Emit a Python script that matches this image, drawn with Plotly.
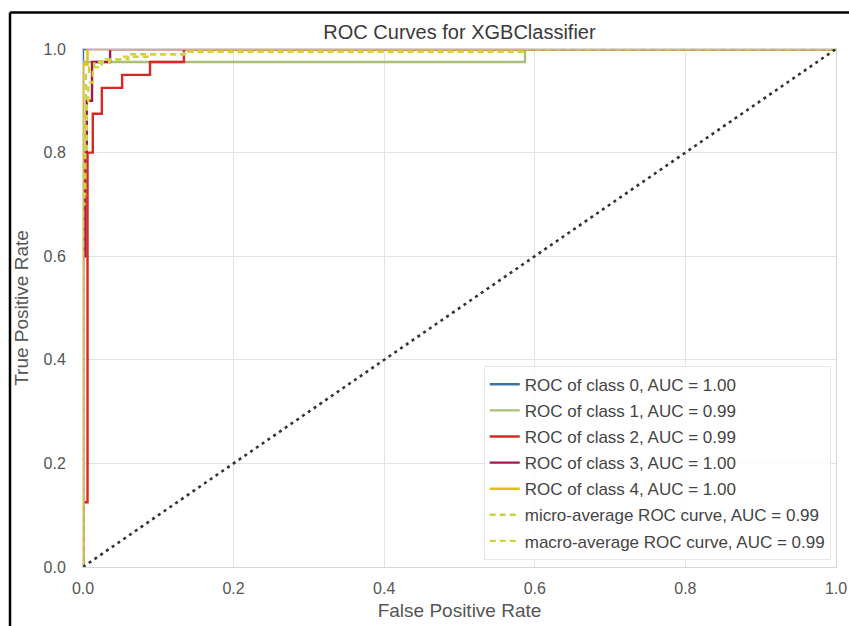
import plotly.graph_objects as go

# ---- data ----
class0_fpr = [0.0, 0.0, 1.0]
class0_tpr = [0.0, 1.0, 1.0]

class1_fpr = [0.0, 0.0, 0.587, 0.587, 1.0]
class1_tpr = [0.0, 0.975, 0.975, 1.0, 1.0]

class2_fpr = [0.0, 0.0, 0.006, 0.006, 0.013, 0.013, 0.025, 0.025, 0.052, 0.052, 0.089, 0.089, 0.134, 0.134, 1.0]
class2_tpr = [0.0, 0.125, 0.125, 0.8, 0.8, 0.875, 0.875, 0.925, 0.925, 0.95, 0.95, 0.975, 0.975, 1.0, 1.0]

class3_fpr = [0.0, 0.0, 0.003, 0.003, 0.005, 0.005, 0.012, 0.012, 0.036, 0.036, 1.0]
class3_tpr = [0.0, 0.6, 0.6, 0.8, 0.8, 0.9, 0.9, 0.975, 0.975, 1.0, 1.0]

class4_fpr = [0.0, 0.0, 0.006, 0.006, 1.0]
class4_tpr = [0.0, 0.97, 0.97, 1.0, 1.0]

micro_fpr = [0.0, 0.0, 0.002, 0.002, 0.004, 0.004, 0.008, 0.008, 0.015, 0.015, 0.03, 0.03, 0.06, 0.06, 0.14, 0.14, 0.587, 0.587, 1.0]
micro_tpr = [0.0, 0.7, 0.7, 0.88, 0.88, 0.95, 0.95, 0.965, 0.965, 0.975, 0.975, 0.98, 0.98, 0.99, 0.99, 0.995, 0.995, 1.0, 1.0]

macro_fpr = [0.0, 0.0, 0.003, 0.003, 0.005, 0.005, 0.007, 0.007, 0.013, 0.013, 0.025, 0.025, 0.036, 0.036, 0.052, 0.052, 0.089, 0.089, 0.134, 0.134, 0.587, 0.587, 1.0]
macro_tpr = [0.0, 0.72, 0.72, 0.8, 0.8, 0.89, 0.89, 0.935, 0.935, 0.965, 0.965, 0.975, 0.975, 0.98, 0.98, 0.985, 0.985, 0.99, 0.99, 0.995, 0.995, 1.0, 1.0]

diag = [0.0, 1.0]

names = [
    "ROC of class 0, AUC = 1.00",
    "ROC of class 1, AUC = 0.99",
    "ROC of class 2, AUC = 0.99",
    "ROC of class 3, AUC = 1.00",
    "ROC of class 4, AUC = 1.00",
    "micro-average ROC curve, AUC = 0.99",
    "macro-average ROC curve, AUC = 0.99",
]
tick_vals = [0.0, 0.2, 0.4, 0.6, 0.8, 1.0]
tick_text = ["0.0", "0.2", "0.4", "0.6", "0.8", "1.0"]

colors = ["#3f72a6", "#a9bf7a", "#dc2626", "#a8164f", "#e3bd12", "#c9d23c", "#d2d43a"]
dashes = ["solid"] * 5 + ["6px,4px", "6px,4px"]

series = [
    (class0_fpr, class0_tpr), (class1_fpr, class1_tpr), (class2_fpr, class2_tpr),
    (class3_fpr, class3_tpr), (class4_fpr, class4_tpr), (micro_fpr, micro_tpr),
    (macro_fpr, macro_tpr),
]

FONT = "Liberation Sans, Arial, sans-serif"
fig = go.Figure()
for i, ((fx, ty), nm) in enumerate(zip(series, names)):
    fig.add_trace(go.Scatter(
        x=fx, y=ty, mode="lines", name=nm, legendgroup=f"g{i}",
        line=dict(color=colors[i], width=2.4, dash=dashes[i]),
    ))
fig.add_trace(go.Scatter(
    x=diag, y=diag, mode="lines", showlegend=False,
    line=dict(color="#333333", width=2.6, dash="3px,4px"),
))

W, H = 849, 626
L, R, T, B = 83, 13, 49, 59
pw, ph = W - L - R, H - T - B

fig.update_layout(
    width=W, height=H,
    margin=dict(l=L, r=R, t=T, b=B, autoexpand=False),
    paper_bgcolor="white", plot_bgcolor="white",
    font=dict(family=FONT, color="#555555", size=16),
    title=dict(text="ROC Curves for XGBClassifier", x=0.5, xref="paper", xanchor="center",
               y=1 - 32 / H, yref="container", yanchor="middle",
               font=dict(size=20, color="#3a3a3a", family=FONT)),
    legend=dict(x=0.993, y=0.014, xanchor="right", yanchor="bottom",
                bgcolor="rgba(255,255,255,0.85)", bordercolor="#e6e6e6", borderwidth=1,
                font=dict(size=17, color="#444444", family=FONT),
                traceorder="grouped", tracegroupgap=1, itemwidth=30),
    showlegend=True,
)
fig.update_xaxes(range=[0, 1], tickvals=tick_vals, ticktext=tick_text, showgrid=True,
                 gridcolor="#e3e3e3", gridwidth=1, zeroline=False, showline=True, mirror=True,
                 linecolor="#d6d6d6", linewidth=1, ticks="", ticklabelstandoff=7,
                 tickfont=dict(size=16, color="#555555"),
                 title=dict(text="False Positive Rate", standoff=7, font=dict(size=19, color="#555555")),
                 automargin=False)
fig.update_yaxes(range=[0, 1], tickvals=tick_vals, ticktext=tick_text, showgrid=True,
                 gridcolor="#e3e3e3", gridwidth=1, zeroline=False, showline=True, mirror=True,
                 linecolor="#d6d6d6", linewidth=1, ticks="", ticklabelstandoff=13,
                 tickfont=dict(size=16, color="#555555"),
                 title=dict(text="True Positive Rate", standoff=9, font=dict(size=19, color="#555555")),
                 automargin=False)

# black outer frame (left and top edges visible in the reference)
fx0 = (10 - L) / pw
fy1 = 1 + (T - 12.5) / ph
fig.add_shape(type="line", xref="paper", yref="paper", x0=fx0, x1=1.2, y0=fy1, y1=fy1,
              line=dict(color="black", width=2.5))
fig.add_shape(type="line", xref="paper", yref="paper", x0=fx0, x1=fx0, y0=-0.3, y1=fy1,
              line=dict(color="black", width=2.5))

fig.write_html("out.html")
